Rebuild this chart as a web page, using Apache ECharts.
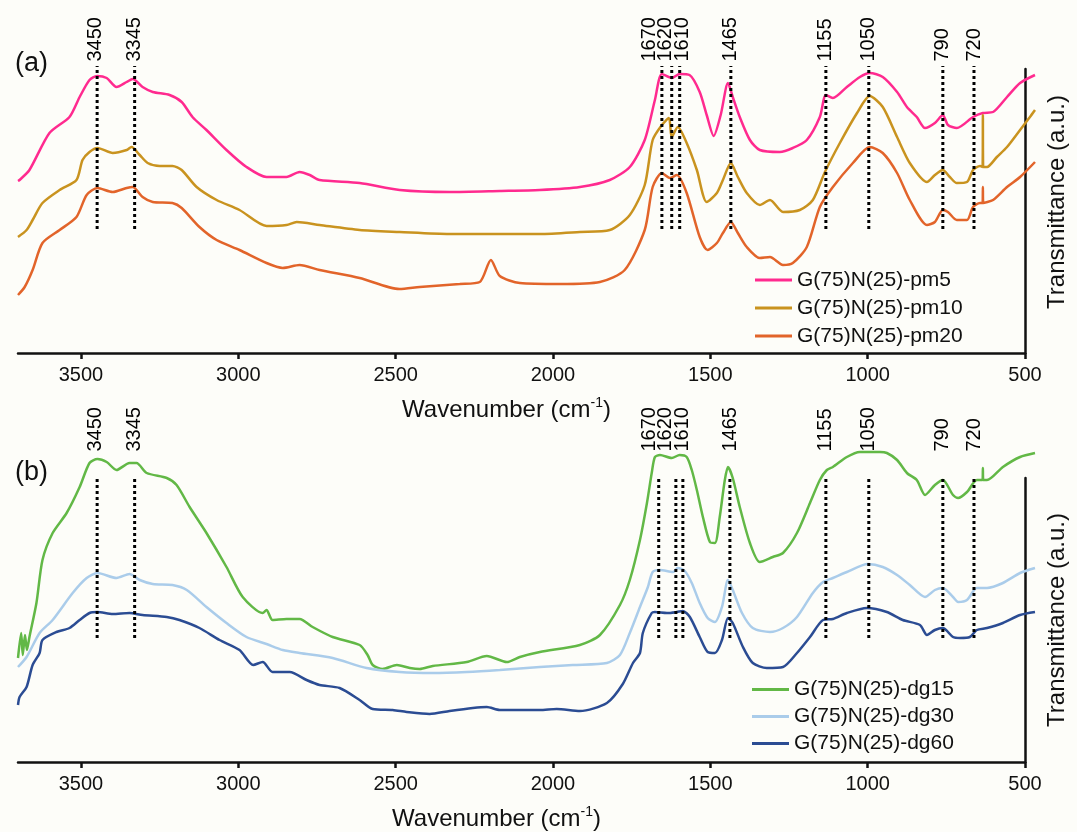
<!DOCTYPE html>
<html>
<head>
<meta charset="utf-8">
<title>FTIR spectra</title>
<script src="https://cdn.jsdelivr.net/npm/echarts@6/dist/echarts.min.js"></script>
<style>
  html, body { margin: 0; padding: 0; background: #fdfdf9; }
  #chart { width: 1077px; height: 832px; }
</style>
</head>
<body>
<div id="chart"></div>
<script>
// wavenumber (cm-1), transmittance (a.u.)
const PM5 = [[3700,172],[3695,173],[3664,183],[3601,220],[3538,236],[3506,256],[3475,273],[3451,277],[3421,275],[3390,266],[3358,271],[3339,274],[3308,266],[3276,261],[3223,258],[3185,251],[3151,236],[3107,223],[3044,203],[2981,186],[2918,176],[2855,176],[2814,181],[2782,178],[2751,173],[2625,170],[2499,163],[2342,161],[2184,162],[2058,163],[1932,166],[1838,173],[1775,186],[1728,213],[1696,253],[1674,279],[1643,275],[1618,279],[1587,278],[1555,261],[1533,238],[1511,217],[1489,238],[1466,270],[1451,256],[1429,236],[1397,213],[1366,203],[1303,201],[1262,205],[1218,213],[1177,236],[1158,258],[1136,255],[1092,266],[1051,276],[1020,280],[979,276],[934,261],[903,246],[872,236],[846,225],[815,230],[790,238],[774,228],[746,225],[695,236],[664,240],[632,241],[588,256],[547,270],[500,278]];
const PM10 = [[3700,116],[3673,123],[3654,133],[3623,150],[3569,163],[3516,173],[3497,193],[3475,201],[3450,205],[3402,200],[3358,203],[3343,206],[3317,198],[3292,190],[3254,187],[3214,187],[3185,183],[3138,166],[3075,153],[3003,143],[2918,127],[2855,128],[2823,131],[2751,128],[2625,123],[2499,121],[2342,119],[2058,119],[1932,121],[1838,123],[1775,138],[1728,168],[1703,213],[1674,228],[1652,235],[1643,216],[1624,226],[1596,210],[1564,183],[1533,151],[1501,160],[1482,173],[1457,190],[1435,176],[1407,160],[1366,148],[1334,153],[1293,141],[1240,143],[1199,153],[1161,181],[1114,210],[1060,240],[1020,257],[979,246],[934,216],[894,190],[840,171],[815,178],[790,183],[768,176],[746,170],[714,171],[695,183],[673,187],[665,186],[664,238],[663,186],[651,186],[620,196],[588,206],[547,223],[516,236],[500,243]];
const PM20 = [[3700,58],[3679,66],[3654,83],[3623,110],[3569,123],[3516,136],[3484,158],[3450,165],[3402,161],[3358,165],[3339,166],[3308,156],[3276,151],[3214,150],[3185,145],[3129,126],[3075,113],[3003,103],[2918,90],[2867,85],[2814,88],[2751,83],[2625,75],[2500,64],[2436,66],[2310,69],[2247,71],[2212,93],[2184,77],[2121,70],[1995,69],[1869,71],[1791,83],[1728,123],[1703,166],[1674,180],[1649,175],[1627,178],[1596,160],[1555,116],[1530,103],[1501,110],[1482,120],[1457,131],[1435,120],[1407,106],[1366,95],[1334,96],[1293,88],[1262,90],[1218,106],[1177,146],[1136,166],[1073,190],[1020,206],[979,200],[934,180],[894,153],[840,128],[815,131],[790,143],[774,141],[746,133],[714,133],[695,146],[673,150],[665,150],[664,166],[663,150],[632,153],[588,166],[547,176],[500,191]];
const DG15 = [[3700,105],[3690,130],[3685,108],[3678,128],[3672,113],[3664,126],[3642,160],[3623,203],[3591,230],[3547,250],[3506,276],[3475,300],[3450,304],[3421,301],[3390,293],[3349,300],[3327,300],[3295,290],[3232,285],[3201,278],[3160,256],[3107,230],[3044,196],[2993,166],[2930,150],[2918,153],[2899,143],[2855,144],[2814,144],[2773,136],[2710,126],[2625,118],[2600,108],[2584,98],[2553,94],[2508,98],[2467,95],[2436,94],[2395,97],[2288,101],[2225,107],[2162,101],[2121,106],[2058,111],[1932,118],[1869,128],[1806,158],[1775,183],[1743,223],[1721,260],[1706,290],[1696,306],[1680,308],[1643,305],[1618,308],[1596,306],[1580,293],[1564,273],[1545,246],[1523,221],[1507,220],[1492,246],[1476,283],[1466,296],[1451,285],[1429,256],[1397,220],[1366,201],[1325,206],[1293,210],[1249,230],[1208,260],[1177,283],[1155,293],[1136,296],[1092,306],[1051,311],[988,311],[966,310],[934,303],[903,290],[872,283],[846,268],[815,278],[790,283],[758,268],[742,265],[714,271],[683,283],[665,283],[664,295],[663,283],[651,283],[601,296],[547,306],[500,310]];
const DG30 = [[3700,96],[3673,106],[3632,130],[3591,143],[3528,170],[3484,185],[3450,190],[3390,185],[3349,189],[3317,183],[3276,179],[3214,178],[3169,173],[3107,156],[3044,140],[2981,126],[2918,119],[2867,113],[2814,110],[2710,105],[2603,95],[2499,91],[2395,90],[2288,91],[2184,93],[2058,96],[1954,98],[1847,100],[1806,108],[1775,130],[1743,156],[1718,176],[1703,191],[1680,193],[1639,191],[1624,195],[1602,192],[1580,180],[1555,160],[1530,145],[1507,141],[1485,156],[1466,183],[1451,173],[1422,150],[1388,135],[1334,131],[1293,135],[1249,146],[1199,170],[1167,181],[1136,185],[1092,191],[1026,199],[979,196],[934,188],[894,178],[846,166],[815,173],[790,175],[758,166],[742,161],[714,163],[683,175],[651,175],[601,180],[547,190],[500,195]];
const DG60 = [[3700,58],[3695,66],[3673,76],[3654,98],[3632,110],[3623,123],[3579,131],[3538,135],[3506,143],[3475,150],[3450,151],[3402,149],[3349,150],[3308,148],[3232,146],[3192,143],[3129,135],[3066,123],[3003,113],[2960,98],[2930,101],[2899,91],[2845,91],[2792,83],[2751,78],[2688,75],[2625,63],[2584,54],[2521,53],[2477,51],[2405,49],[2342,52],[2269,55],[2225,56],[2184,53],[2121,53],[2058,53],[2005,54],[1932,52],[1847,60],[1797,79],[1765,100],[1743,110],[1734,130],[1706,150],[1696,151],[1658,150],[1627,151],[1608,152],[1586,146],[1555,126],[1530,111],[1507,110],[1485,123],[1466,145],[1451,140],[1419,116],[1388,100],[1344,95],[1293,96],[1249,110],[1208,126],[1167,143],[1136,144],[1092,150],[1029,155],[966,151],[916,143],[862,138],[840,128],[815,133],[790,135],[758,126],[736,125],[705,126],[683,133],[651,135],[601,140],[547,148],[500,151]];

const NAMES_A = ['G(75)N(25)-pm5', 'G(75)N(25)-pm10', 'G(75)N(25)-pm20'];
const NAMES_B = ['G(75)N(25)-dg15', 'G(75)N(25)-dg30', 'G(75)N(25)-dg60'];
const COLORS_A = ['#ff2a8f', '#c9931f', '#e2642a'];
const COLORS_B = ['#62b846', '#aaccea', '#2b4c93'];

const TICKS = [500, 1000, 1500, 2000, 2500, 3000, 3500];
const PEAK_TEXT = ['3450', '3345', '1670', '1620', '1610', '1465', '1155', '1050', '790', '720'];
const PEAK_LINE_A = [3451, 3333, 1674, 1643, 1618, 1457, 1158, 1023, 790, 692];
const PEAK_LINE_B = [3451, 3333, 1684, 1630, 1608, 1460, 1158, 1023, 790, 692];
const PEAK_LABEL_WN = [3454, 3333, 1712, 1662, 1609, 1457, 1158, 1023, 790, 690];
const DOT_RANGE_A = [124, 287];
const DOT_RANGE_B = [125, 286];
const LABEL_BASE_A = 291;
const LABEL_BASE_B = 311;

const FONT = "'Liberation Sans', Arial, sans-serif";
const INK = '#111';

const chart = echarts.init(document.getElementById('chart'), null, { renderer: 'canvas' });

function dataX(gridIndex) {
  return { type: 'value', gridIndex, min: 500, max: 3700, inverse: true, show: false };
}

function frameX(gridIndex, shift) {
  return {
    type: 'value', gridIndex, min: 500, max: 3700, inverse: true,
    axisLine: { show: true, lineStyle: { color: INK, width: 2.5 } },
    axisTick: { show: true, customValues: TICKS, length: 6, lineStyle: { color: INK, width: 2.5 } },
    axisLabel: { customValues: TICKS, formatter: (v) => String(v), color: INK, fontSize: 20, fontFamily: FONT, margin: 12 },
    splitLine: { show: false },
    name: '{t|Wavenumber (cm}{s|-1}{t|)}',
    nameLocation: 'middle', nameGap: 43,
    nameTextStyle: {
      padding: [0, shift, 0, 0],
      rich: {
        t: { fontSize: 24, color: INK, fontFamily: FONT, lineHeight: 28 },
        s: { fontSize: 14, color: INK, fontFamily: FONT, verticalAlign: 'top', lineHeight: 14 },
      },
    },
  };
}

function frameY(gridIndex, shift) {
  return {
    type: 'value', gridIndex, position: 'right', min: 0, max: 1,
    axisLine: { show: true, lineStyle: { color: INK, width: 2.5 } },
    axisTick: { show: false }, axisLabel: { show: false }, splitLine: { show: false },
    name: 'Transmittance (a.u.)', nameLocation: 'middle', nameRotate: 90, nameGap: 20,
    nameTextStyle: { fontSize: 24, color: INK, fontFamily: FONT, padding: [0, 0, 0, shift] },
  };
}

function curve(name, data, color, axis) {
  return {
    name, type: 'line', xAxisIndex: axis, yAxisIndex: axis, data,
    symbol: 'none', smooth: 0.25, z: 2,
    lineStyle: { width: 2.5, color }, itemStyle: { color },
  };
}

function dotted(lines, range, axis) {
  return lines.map((wn) => ({
    type: 'line', xAxisIndex: axis, yAxisIndex: axis, silent: true, symbol: 'none', z: 3,
    data: [[wn, range[0]], [wn, range[1]]],
    lineStyle: { color: '#000', width: 3, type: [3, 3] },
  }));
}

function peakLabels(base, axis) {
  return {
    type: 'scatter', xAxisIndex: axis, yAxisIndex: axis, silent: true, symbolSize: 1, z: 4,
    itemStyle: { color: 'rgba(0,0,0,0)' },
    data: PEAK_TEXT.map((t, i) => [PEAK_LABEL_WN[i], base, t]),
    label: {
      show: true, position: [0, 0], rotate: 90, align: 'left', verticalAlign: 'middle', opacity: 1,
      formatter: (p) => p.data[2], fontSize: 20, color: '#000', fontFamily: FONT, textBorderWidth: 0,
    },
  };
}

const legendBase = {
  orient: 'vertical', icon: 'rect', itemWidth: 37, itemHeight: 3, itemGap: 0,
  textStyle: { fontSize: 21, color: INK, fontFamily: FONT, lineHeight: 28 },
};

chart.setOption({
  animation: false,
  backgroundColor: '#fdfdf9',
  title: [
    { text: '(a)', left: 10, top: 45, textStyle: { fontSize: 27, fontWeight: 'normal', color: INK, fontFamily: FONT } },
    { text: '(b)', left: 10, top: 454, textStyle: { fontSize: 27, fontWeight: 'normal', color: INK, fontFamily: FONT } },
  ],
  legend: [
    { ...legendBase, data: NAMES_A, left: 750, top: 261 },
    { ...legendBase, data: NAMES_B, left: 747, top: 671, textStyle: { ...legendBase.textStyle, lineHeight: 27 } },
  ],
  grid: [
    { left: 18, right: 42, top: 18, bottom: 479 },
    { left: 18, right: 42, top: 69, bottom: 479 },
    { left: 18, right: 42, top: 400, bottom: 69 },
    { left: 18, right: 42, top: 478, bottom: 69 },
  ],
  xAxis: [dataX(0), frameX(1, 30), dataX(2), frameX(3, 50)],
  yAxis: [
    { type: 'value', gridIndex: 0, min: 0, max: 335, show: false },
    frameY(1, 18),
    { type: 'value', gridIndex: 2, min: 0, max: 363, show: false },
    frameY(3, 0),
  ],
  series: [
    curve(NAMES_A[0], PM5, COLORS_A[0], 0),
    curve(NAMES_A[1], PM10, COLORS_A[1], 0),
    curve(NAMES_A[2], PM20, COLORS_A[2], 0),
    curve(NAMES_B[0], DG15, COLORS_B[0], 2),
    curve(NAMES_B[1], DG30, COLORS_B[1], 2),
    curve(NAMES_B[2], DG60, COLORS_B[2], 2),
    ...dotted(PEAK_LINE_A, DOT_RANGE_A, 0),
    ...dotted(PEAK_LINE_B, DOT_RANGE_B, 2),
    peakLabels(LABEL_BASE_A, 0),
    peakLabels(LABEL_BASE_B, 2),
  ],
});
window.addEventListener('resize', () => chart.resize());
</script>
</body>
</html>
